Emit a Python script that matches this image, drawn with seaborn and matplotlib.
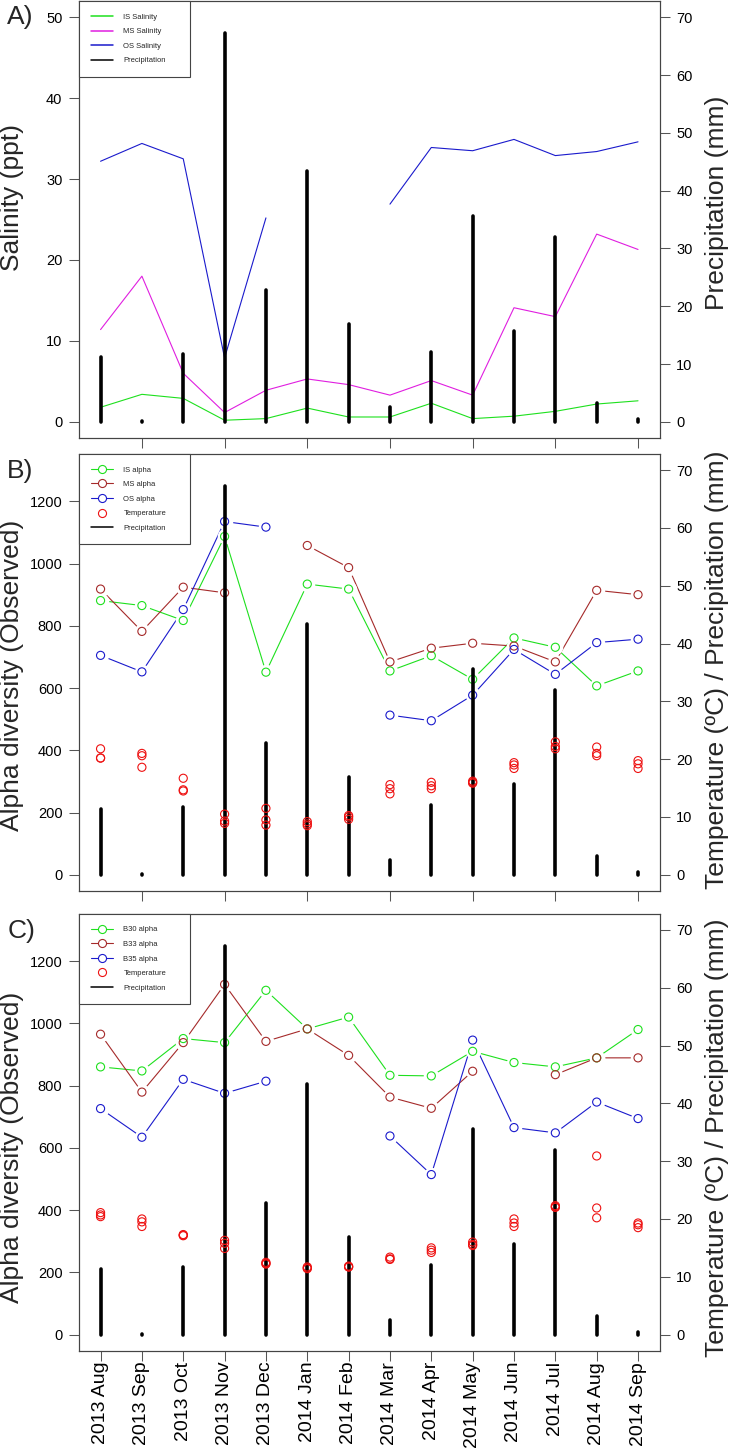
import numpy as np
import pandas as pd
import matplotlib
matplotlib.use("Agg")
import matplotlib.pyplot as plt
from matplotlib.lines import Line2D
import seaborn as sns

months = ["2013 Aug", "2013 Sep", "2013 Oct", "2013 Nov", "2013 Dec", "2014 Jan",
          "2014 Feb", "2014 Mar", "2014 Apr", "2014 May", "2014 Jun", "2014 Jul",
          "2014 Aug", "2014 Sep"]
precip = [11.3, 0.1, 11.7, 67.3, 22.8, 43.4, 16.9, 2.5, 12.0, 35.6, 15.7, 32.0, 3.2, 0.5]

# panel A - salinity (ppt)
is_sal = [1.8, 3.4, 2.9, 0.2, 0.4, 1.7, 0.6, 0.6, 2.3, 0.4, 0.7, 1.3, 2.2, 2.6]
ms_sal = [11.4, 18.0, 6.0, 1.15, 3.9, 5.3, 4.6, 3.3, 5.1, 3.3, 14.1, 13.0, 23.2, 21.3]
os_sal = [32.2, 34.4, 32.5, 7.9, 25.2, np.nan, np.nan, 26.9, 33.9, 33.5, 34.9, 32.9, 33.4, 34.6]

# panel B - alpha diversity by station
is_alpha = [881, 865, 817, 1087, 651, 934, 918, 655, 704, 628, 761, 731, 607, 655]
ms_alpha = [918, 782, 924, 906, np.nan, 1058, 987, 684, 728, 744, 735, 684, 914, 900]
os_alpha = [705, 652, 852, 1135, 1117, np.nan, np.nan, 513, 495, 577, 724, 644, 746, 757]
temp_b = [[21.8, 20.2, 20.2], [21.0, 20.6, 18.6], [16.7, 14.7, 14.5], [10.5, 9.3, 8.9],
          [11.5, 9.5, 8.6], [9.2, 8.8, 8.5], [10.25, 10.0, 9.6], [15.6, 14.9, 14.0],
          [16.0, 15.4, 14.9], [16.2, 16.0, 15.85], [19.4, 19.0, 18.4], [23.0, 22.2, 21.8],
          [22.1, 21.0, 20.6], [19.75, 19.2, 18.4]]

# panel C - alpha diversity by buoy
b30_alpha = [860, 847, 951, 938, 1106, 982, 1020, 833, 831, 910, 874, 860, 889, 980]
b33_alpha = [965, 779, 938, 1125, 942, 982, 897, 763, 727, 846, np.nan, 835, 889, 889]
b35_alpha = [726, 634, 820, 775, 814, np.nan, np.nan, 638, 514, 946, 665, 648, 747, 694]
temp_c = [[21.1, 20.7, 20.4], [20.0, 19.5, 18.7], [17.3, 17.2, 17.1], [16.3, 15.8, 14.9],
          [12.5, 12.3, 12.2], [11.7, 11.5, 11.4], [11.85, 11.7, 11.7], [13.4, 13.1, 13.0],
          [15.0, 14.6, 14.2], [16.0, 15.6, 15.4], [20.0, 19.3, 18.7], [22.3, 22.1, 22.0],
          [30.9, 21.9, 20.2], [19.3, 19.0, 18.5]]

GREEN, MAGENTA, BLUE, BROWN, RED = "#1ee01e", "#e01ee0", "#1a1acc", "#a52a2a", "#ee1111"
EDGE = "#444444"

sns.set_style("ticks")
plt.rcParams["font.family"] = ["Liberation Sans", "DejaVu Sans"]

pos = np.arange(len(months))


def style_axes(ax):
    for sp in ax.spines.values():
        sp.set_color(EDGE)
        sp.set_linewidth(0.8)
    ax.tick_params(direction="out", length=7, width=0.75, color="#555555",
                   labelcolor="black", labelsize=10.5, pad=5)
    ax.set_xlabel("")
    ax.set_ylabel("")


def series_line(ax, vals, color, markers):
    df = pd.DataFrame({"pos": pos, "val": vals})
    df["seg"] = df["val"].isna().cumsum()
    df = df.dropna()
    sns.lineplot(data=df, x="pos", y="val", units="seg", estimator=None,
                 color=color, lw=0.8, ax=ax, legend=False)
    if markers:
        # white halo gives the R type="b" gap around each point
        sns.scatterplot(data=df, x="pos", y="val", color="white", s=125,
                        linewidth=0, ax=ax, legend=False, zorder=3)
        sns.scatterplot(data=df, x="pos", y="val", color=color, facecolor="none",
                        edgecolor=color, s=34, linewidth=0.8, ax=ax,
                        legend=False, zorder=4)


def precip_axis(ax):
    ax2 = ax.twinx()
    lc = ax2.vlines(pos, 0, precip, color="black", lw=2.6)
    lc.set_capstyle("round")
    ax2.set_ylim(-2.8, 72.8)
    ax2.set_yticks(range(0, 71, 10))
    return ax2


def temp_points(ax2, temps):
    tdf = pd.DataFrame({"pos": np.repeat(pos, 3), "temp": np.ravel(temps)})
    sns.scatterplot(data=tdf, x="pos", y="temp", color=RED, facecolor="none",
                    edgecolor=RED, s=34, linewidth=0.8, ax=ax2, legend=False, zorder=5)


def add_legend(ax2, handles, labels):
    leg = ax2.legend(handles, labels, loc="upper left", bbox_to_anchor=(0, 1, 0.191, 0),
                     mode="expand", borderaxespad=0, fancybox=False, framealpha=1,
                     edgecolor=EDGE, fontsize=5.5, borderpad=1.6, labelspacing=0.95,
                     handlelength=2.9, handletextpad=1.3)
    leg.get_frame().set_linewidth(0.8)


def alpha_handle(c):
    return Line2D([0], [0], color=c, lw=0.8, marker="o", ms=5.8, mfc="white",
                  mec=c, mew=0.8)


temp_handle = Line2D([0], [0], lw=0, marker="o", ms=5.8, mfc="none", mec=RED, mew=0.8)
precip_handle = Line2D([0], [0], color="black", lw=1.1)

fig = plt.figure(figsize=(7.32, 14.49), dpi=100)
axA = fig.add_axes([0.108, 0.6977, 0.793, 0.3016])
axB = fig.add_axes([0.108, 0.3851, 0.793, 0.3016])
axC = fig.add_axes([0.108, 0.0678, 0.793, 0.3016])

# ---- A
series_line(axA, is_sal, GREEN, False)
series_line(axA, ms_sal, MAGENTA, False)
series_line(axA, os_sal, BLUE, False)
axA.set_ylim(-2, 52)
axA.set_yticks(range(0, 51, 10))
a2 = precip_axis(axA)
add_legend(a2, [Line2D([0], [0], color=GREEN, lw=1.1), Line2D([0], [0], color=MAGENTA, lw=1.1),
                Line2D([0], [0], color=BLUE, lw=1.1), precip_handle],
           ["IS Salinity", "MS Salinity", "OS Salinity", "Precipitation"])

# ---- B
series_line(axB, is_alpha, GREEN, True)
series_line(axB, ms_alpha, BROWN, True)
series_line(axB, os_alpha, BLUE, True)
b2 = precip_axis(axB)
temp_points(b2, temp_b)
add_legend(b2, [alpha_handle(GREEN), alpha_handle(BROWN), alpha_handle(BLUE),
                temp_handle, precip_handle],
           ["IS alpha", "MS alpha", "OS alpha", "Temperature", "Precipitation"])

# ---- C
series_line(axC, b30_alpha, GREEN, True)
series_line(axC, b33_alpha, BROWN, True)
series_line(axC, b35_alpha, BLUE, True)
c2 = precip_axis(axC)
temp_points(c2, temp_c)
add_legend(c2, [alpha_handle(GREEN), alpha_handle(BROWN), alpha_handle(BLUE),
                temp_handle, precip_handle],
           ["B30 alpha", "B33 alpha", "B35 alpha", "Temperature", "Precipitation"])

for ax in (axB, axC):
    ax.set_ylim(-52, 1352)
    ax.set_yticks(range(0, 1201, 200))

for ax in (axA, axB, axC, a2, b2, c2):
    ax.set_xlim(-0.52, 13.52)
    style_axes(ax)

for ax in (axA, axB):
    ax.set_xticks(pos[1::2])
    ax.tick_params(axis="x", labelbottom=False)
axC.set_xticks(pos)
axC.set_xticklabels(months, rotation=90, fontsize=14)
axC.tick_params(axis="x", pad=1)

# axis titles and panel letters
fig.text(0.017, 0.8634, "Salinity (ppt)", rotation=90, ha="center", va="center", fontsize=19)
fig.text(0.017, 0.5342, "Alpha diversity (Observed)", rotation=90, ha="center", va="center", fontsize=19)
fig.text(0.017, 0.2084, "Alpha diversity (Observed)", rotation=90, ha="center", va="center", fontsize=19)
fig.text(0.980, 0.8600, "Precipitation (mm)", rotation=90, ha="center", va="center", fontsize=19)
fig.text(0.980, 0.5376, "Temperature (ºC) / Precipitation (mm)", rotation=90,
         ha="center", va="center", fontsize=19)
fig.text(0.980, 0.2146, "Temperature (ºC) / Precipitation (mm)", rotation=90,
         ha="center", va="center", fontsize=19)
fig.text(0.010, 0.9965, "A)", ha="left", va="top", fontsize=19)
fig.text(0.010, 0.6835, "B)", ha="left", va="top", fontsize=19)
fig.text(0.010, 0.3660, "C)", ha="left", va="top", fontsize=19)

fig.savefig("out.png", dpi=100)
